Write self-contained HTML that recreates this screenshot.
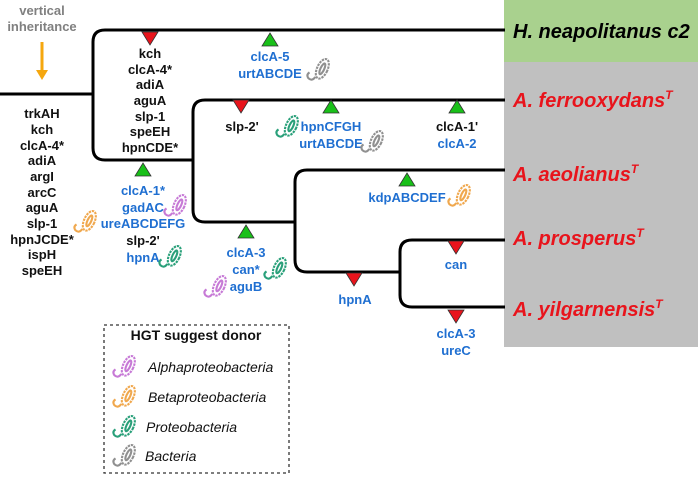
<!DOCTYPE html>
<html><head><meta charset="utf-8"><style>
html,body{margin:0;padding:0;background:#fff;}
svg{display:block;}
text{font-family:"Liberation Sans",Arial,sans-serif;font-weight:bold;}
.g{font-size:13px;fill:#111;text-anchor:middle;}
.b{font-size:13px;fill:#1f6fd1;text-anchor:middle;}
.sp{font-size:20px;font-style:italic;fill:#e8141c;}
.lg{font-size:14px;font-style:italic;font-weight:normal;fill:#111;}
</style></head><body>
<svg width="700" height="477" viewBox="0 0 700 477" xmlns="http://www.w3.org/2000/svg">
<defs>
<symbol id="bug" viewBox="-12 -12 24 24">
<g fill="none" stroke-width="1.8">
<ellipse cx="2" cy="-1" rx="4.5" ry="9" transform="rotate(25 2 -1)" stroke-dasharray="2,0.8"/>
<ellipse cx="2" cy="-1" rx="1.6" ry="5" transform="rotate(25 2 -1)"/>
<path d="M-4 6 q-3 4 -6 1 q-2 -3 1 -5"/>
</g>
</symbol>
</defs>
<rect x="504" y="0" width="194" height="62" fill="#a9d18e"/>
<rect x="504" y="62" width="194" height="285" fill="#c0c0c0"/>
<text x="513" y="38" style="font-size:20px;font-style:italic;fill:#000">H. neapolitanus c2</text>
<text x="513" y="107" class="sp">A. ferrooxydans<tspan dy="-8" font-size="12">T</tspan></text>
<text x="513" y="181" class="sp">A. aeolianus<tspan dy="-8" font-size="12">T</tspan></text>
<text x="513" y="245" class="sp">A. prosperus<tspan dy="-8" font-size="12">T</tspan></text>
<text x="513" y="316" class="sp">A. yilgarnensis<tspan dy="-8" font-size="12">T</tspan></text>

<g fill="none" stroke="#000" stroke-width="3">
<path d="M0 94 H93"/>
<path d="M505 30 H105 Q93 30 93 42 V148 Q93 160 105 160 H193"/>
<path d="M505 100 H205 Q193 100 193 112 V210 Q193 222 205 222 H295"/>
<path d="M505 170 H307 Q295 170 295 182 V260 Q295 272 307 272 H400"/>
<path d="M505 240 H412 Q400 240 400 252 V295 Q400 307 412 307 H505"/>
</g>

<text x="42" y="15" class="g" style="fill:#808080;font-size:13px">vertical</text>
<text x="42" y="31" class="g" style="fill:#808080;font-size:13px">inheritance</text>
<path d="M42 42 V72" stroke="#f5a70f" stroke-width="3"/>
<path d="M36 70 L42 80 L48 70 Z" fill="#f5a70f"/>

<text x="42" y="118" class="g">trkAH</text><text x="42" y="134" class="g">kch</text>
<text x="42" y="150" class="g">clcA-4*</text><text x="42" y="165" class="g">adiA</text>
<text x="42" y="181" class="g">argI</text><text x="42" y="197" class="g">arcC</text>
<text x="42" y="212" class="g">aguA</text><text x="42" y="228" class="g">slp-1</text>
<text x="42" y="244" class="g">hpnJCDE*</text><text x="42" y="259" class="g">ispH</text>
<text x="42" y="275" class="g">speEH</text>

<text x="150" y="58" class="g">kch</text><text x="150" y="74" class="g">clcA-4*</text>
<text x="150" y="89" class="g">adiA</text><text x="150" y="105" class="g">aguA</text>
<text x="150" y="121" class="g">slp-1</text><text x="150" y="136" class="g">speEH</text>
<text x="150" y="152" class="g">hpnCDE*</text>

<g stroke="#333" stroke-width="0.8">
<path d="M142 32 H158 L150 45 Z" fill="#e8141c"/>
<path d="M233 100 H249 L241 113 Z" fill="#e8141c"/>
<path d="M346 273 H362 L354 286 Z" fill="#e8141c"/>
<path d="M448 241 H464 L456 254 Z" fill="#e8141c"/>
<path d="M448 310 H464 L456 323 Z" fill="#e8141c"/>
<path d="M270 33 L278 46 H262 Z" fill="#19c019"/>
<path d="M331 100 L339 113 H323 Z" fill="#19c019"/>
<path d="M457 100 L465 113 H449 Z" fill="#19c019"/>
<path d="M143 163 L151 176 H135 Z" fill="#19c019"/>
<path d="M246 225 L254 238 H238 Z" fill="#19c019"/>
<path d="M407 173 L415 186 H399 Z" fill="#19c019"/>
</g>

<text x="270" y="61" class="b">clcA-5</text><text x="270" y="78" class="b">urtABCDE</text>
<use href="#bug" x="306" y="56" width="28" height="28" stroke="#909090"/>
<text x="242" y="131" class="g">slp-2'</text>
<text x="331" y="131" class="b">hpnCFGH</text><text x="331" y="148" class="b">urtABCDE</text>
<use href="#bug" x="275" y="113" width="28" height="28" stroke="#2aa07a"/>
<use href="#bug" x="360" y="128" width="28" height="28" stroke="#909090"/>
<text x="457" y="131" class="g">clcA-1'</text><text x="457" y="148" class="b">clcA-2</text>
<text x="143" y="195" class="b">clcA-1*</text><text x="143" y="212" class="b">gadAC</text>
<text x="143" y="228" class="b">ureABCDEFG</text><text x="143" y="245" class="g">slp-2'</text>
<text x="143" y="262" class="b">hpnA</text>
<use href="#bug" x="163" y="192" width="28" height="28" stroke="#c77ad6"/>
<use href="#bug" x="73" y="208" width="28" height="28" stroke="#f0a84e"/>
<use href="#bug" x="158" y="243" width="28" height="28" stroke="#2aa07a"/>
<text x="246" y="257" class="b">clcA-3</text><text x="246" y="274" class="b">can*</text>
<text x="246" y="291" class="b">aguB</text>
<use href="#bug" x="263" y="255" width="28" height="28" stroke="#2aa07a"/>
<use href="#bug" x="203" y="273" width="28" height="28" stroke="#c77ad6"/>
<text x="407" y="202" class="b">kdpABCDEF</text>
<use href="#bug" x="447" y="182" width="28" height="28" stroke="#f0a84e"/>
<text x="355" y="304" class="b">hpnA</text>
<text x="456" y="269" class="b">can</text>
<text x="456" y="338" class="b">clcA-3</text><text x="456" y="355" class="b">ureC</text>

<rect x="104" y="325" width="185" height="148" fill="none" stroke="#333" stroke-width="1.3" stroke-dasharray="3,3"/>
<text x="196" y="340" class="g" style="font-size:14px">HGT suggest donor</text>
<use href="#bug" x="112" y="353" width="28" height="28" stroke="#c77ad6"/>
<use href="#bug" x="112" y="383" width="28" height="28" stroke="#f0a84e"/>
<use href="#bug" x="112" y="413" width="28" height="28" stroke="#2aa07a"/>
<use href="#bug" x="112" y="442" width="28" height="28" stroke="#909090"/>
<text x="148" y="372" class="lg">Alphaproteobacteria</text>
<text x="148" y="402" class="lg">Betaproteobacteria</text>
<text x="146" y="432" class="lg">Proteobacteria</text>
<text x="145" y="461" class="lg">Bacteria</text>
</svg>
</body></html>
